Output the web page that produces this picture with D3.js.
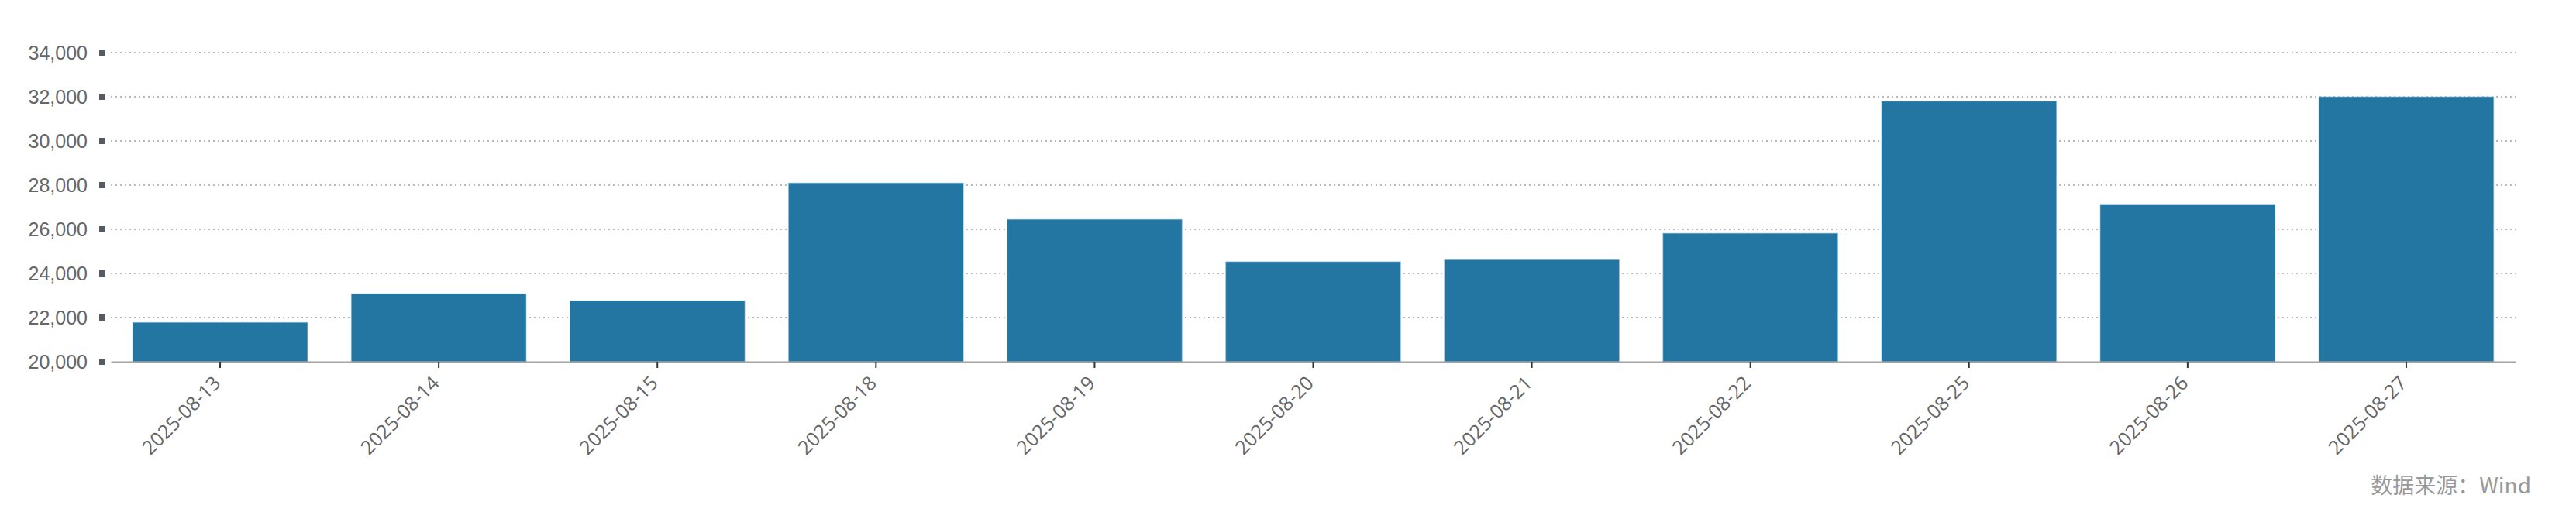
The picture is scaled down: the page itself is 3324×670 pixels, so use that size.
<!DOCTYPE html>
<html>
<head>
<meta charset="utf-8">
<script src="https://cdn.jsdelivr.net/npm/d3@7/dist/d3.min.js"></script>
<style>
  html, body { margin: 0; padding: 0; background: #fff; }
  svg { display: block; }
</style>
</head>
<body>
<svg id="chart" width="3324" height="670"></svg>
<script>
const categories = ["2025-08-13","2025-08-14","2025-08-15","2025-08-18","2025-08-19","2025-08-20","2025-08-21","2025-08-22","2025-08-25","2025-08-26","2025-08-27"];
const values = [21780, 23080, 22760, 28100, 26450, 24530, 24620, 25820, 31800, 27130, 32000];
const yTicks = [20000, 22000, 24000, 26000, 28000, 30000, 32000, 34000];
const sourceText = "数据来源：Wind";

(function () {
const svg = d3.select("#chart");
const mLeft = 143, mRight = 3246, mTop = 68, mBottom = 467;

const x = d3.scaleBand().domain(categories).range([mLeft, mRight]).paddingInner(0.2).paddingOuter(0.1);
const y = d3.scaleLinear().domain([20000, 34000]).range([mBottom, mTop]);

// gridlines
svg.append("g").selectAll("line").data(yTicks.filter(t => t > 20000)).join("line")
  .attr("x1", mLeft).attr("x2", mRight)
  .attr("y1", d => y(d)).attr("y2", d => y(d))
  .attr("stroke", "#a3a3ab").attr("stroke-width", 1.6).attr("stroke-dasharray", "2,4");

// y tick markers & labels
const yg = svg.append("g");
yg.selectAll("rect").data(yTicks).join("rect")
  .attr("x", 128).attr("y", d => y(d) - 4).attr("width", 8).attr("height", 8).attr("fill", "#555a63");
yg.selectAll("text").data(yTicks).join("text")
  .attr("x", 113).attr("y", d => y(d)).attr("dy", "0.35em")
  .attr("text-anchor", "end")
  .attr("font-family", "'Liberation Sans', Arial, sans-serif").attr("font-size", 25).attr("fill", "#666")
  .text(d => d3.format(",")(d));

// bars
svg.append("g").selectAll("rect").data(values).join("rect")
  .attr("x", (d, i) => x(categories[i]))
  .attr("width", x.bandwidth())
  .attr("y", d => y(d))
  .attr("height", d => y(20000) - y(d))
  .attr("fill", "#2376a2")
  .attr("stroke", "#8fc0d8").attr("stroke-width", 1).attr("stroke-opacity", 0.6);

// x axis
const xAxis = d3.axisBottom(x).tickSize(8).tickSizeOuter(0).tickPadding(6);
const xg = svg.append("g").attr("transform", `translate(0,${mBottom})`).call(xAxis);
xg.select(".domain").attr("stroke", "#a3a3a3").attr("stroke-width", 2.2);
xg.selectAll(".tick line").attr("stroke", "#333").attr("stroke-width", 2);
xg.selectAll(".tick text")
  .attr("font-family", "'Open Sans', 'Noto Sans', sans-serif").attr("font-size", 25).attr("fill", "#666")
  .attr("text-anchor", "end")
  .attr("transform", "translate(-4,23) rotate(-45)")
  .attr("dy", "0.35em").attr("y", 0).attr("x", 0);

// source
svg.append("text")
  .attr("x", 3266).attr("y", 637).attr("text-anchor", "end")
  .attr("font-family", "'Noto Sans CJK SC', 'Noto Sans', sans-serif").attr("font-size", 28).attr("fill", "#999")
  .text(sourceText);
})();
</script>
</body>
</html>
